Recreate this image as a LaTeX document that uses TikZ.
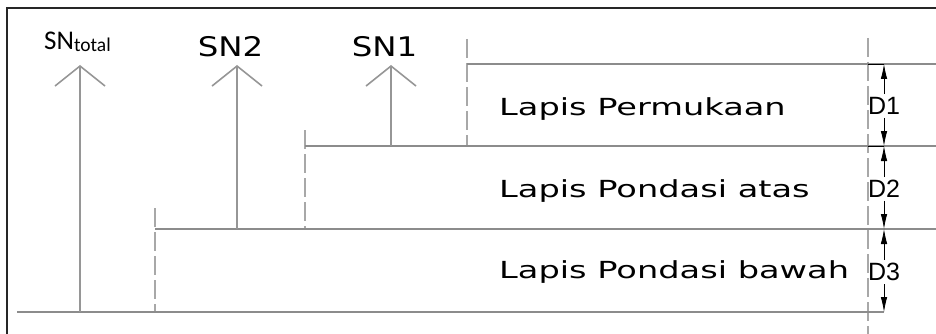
\documentclass[tikz,border=0pt]{standalone}
\usepackage{fontspec}
\usepackage{graphicx}
\usetikzlibrary{arrows.meta}
\setmainfont{DejaVu Sans}
\newfontfamily\carl{Carlito}
\newfontfamily\arialf{Liberation Sans}
\definecolor{lay}{RGB}{140,140,140}
\definecolor{dsh}{RGB}{168,168,168}
\definecolor{arr}{RGB}{150,150,150}
\begin{document}
\begin{tikzpicture}[x=1pt,y=-1pt,
  layer/.style={draw=lay, line width=1.8pt},
  dashv/.style={draw=dsh, line width=1.8pt, dash pattern=on 19pt off 5pt},
  snarrow/.style={draw=arr, line width=2.4pt, -{Straight Barb[length=20pt,width=50pt,line width=1.6pt 0]}},
  dimline/.style={draw=black, line width=0.8pt, -{Latex[length=15pt,width=6.5pt]}},
  tick/.style={draw=black, line width=0.8pt},
  frameline/.style={draw=black!85, line width=1.2pt},
  lapis/.style={anchor=base west, inner sep=0pt, font=\fontsize{23.5}{28}\selectfont},
  snlabel/.style={anchor=base, inner sep=0pt, font=\fontsize{27}{32}\selectfont},
  dlabel/.style={inner sep=3pt, font=\arialf\fontsize{25}{29}\selectfont},
]
\useasboundingbox (0,0) rectangle (936,334);

% frame
\coordinate (fTL) at (7,8);
\coordinate (fBL) at (7,334);
\coordinate (fTR) at (936,8);
\draw[frameline] (fBL) -- (fTL) -- (fTR);

% dashed verticals
\coordinate (v1a) at (155,208); \coordinate (v1b) at (155,312);
\coordinate (v2a) at (305,130); \coordinate (v2b) at (305,229);
\coordinate (v3a) at (467,39);  \coordinate (v3b) at (467,146);
\coordinate (v4a) at (868,38);  \coordinate (v4b) at (868,334);
\draw[dashv] (v1a) -- (v1b);
\draw[dashv] (v2a) -- (v2b);
\draw[dashv] (v3a) -- (v3b);
\draw[dashv] (v4a) -- (v4b);

% layer lines
\coordinate (l1a) at (467,64);  \coordinate (l1b) at (936,64);
\coordinate (l2a) at (305,146); \coordinate (l2b) at (936,146);
\coordinate (l3a) at (155,229); \coordinate (l3b) at (936,229);
\coordinate (g0) at (17,312);   \coordinate (g1) at (884,312);
\draw[layer] (l1a) -- (l1b);
\draw[layer] (l2a) -- (l2b);
\draw[layer] (l3a) -- (l3b);
\draw[layer] (g0) -- (g1);

% SN labels
\node[font=\carl\fontsize{27}{31}\selectfont, anchor=base west, inner sep=0pt] (snt) at (44,50)
  {SN\raisebox{-2pt}{\fontsize{19.5}{21}\selectfont total}};
\node[snlabel] (sn2) at (230.5,57) {\scalebox{1.2}[1]{SN2}};
\node[snlabel] (sn1) at (384.5,57) {\scalebox{1.2}[1]{SN1}};

% SN arrows
\coordinate (bT) at (80,312);  \coordinate (tT) at (80,65);
\coordinate (b2) at (237,229); \coordinate (t2) at (237,65);
\coordinate (b1) at (391,146); \coordinate (t1) at (391,65);
\draw[snarrow] (bT) -- (tT);
\draw[snarrow] (b2) -- (t2);
\draw[snarrow] (b1) -- (t1);

% layer texts
\node[lapis] (txt1) at (499,116) {\scalebox{1.43}[1]{Lapis Permukaan}};
\node[lapis] (txt2) at (499,197) {\scalebox{1.43}[1]{Lapis Pondasi atas}};
\node[lapis] (txt3) at (499,278) {\scalebox{1.43}[1]{Lapis Pondasi bawah}};

% dimensions
\coordinate (d1t) at (884,64);  \coordinate (d1b) at (884,146);
\coordinate (d2t) at (884,146); \coordinate (d2b) at (884,229);
\coordinate (d3t) at (884,229); \coordinate (d3b) at (884,312);
\coordinate (k1) at (868,64);   \coordinate (k2) at (868,146);
\node[dlabel] (d1) at (884,106) {D1};
\node[dlabel] (d2) at (884,189) {D2};
\node[dlabel] (d3) at (884,272) {D3};
\draw[tick] (k1) -- (d1t);
\draw[tick] (k2) -- (d1b);
\draw[dimline] (d1.north) -- (d1t);
\draw[dimline] (d1.south) -- (d1b);
\draw[dimline] (d2.north) -- (d2t);
\draw[dimline] (d2.south) -- (d2b);
\draw[dimline] (d3.north) -- (d3t);
\draw[dimline] (d3.south) -- (d3b);
\end{tikzpicture}
\end{document}
